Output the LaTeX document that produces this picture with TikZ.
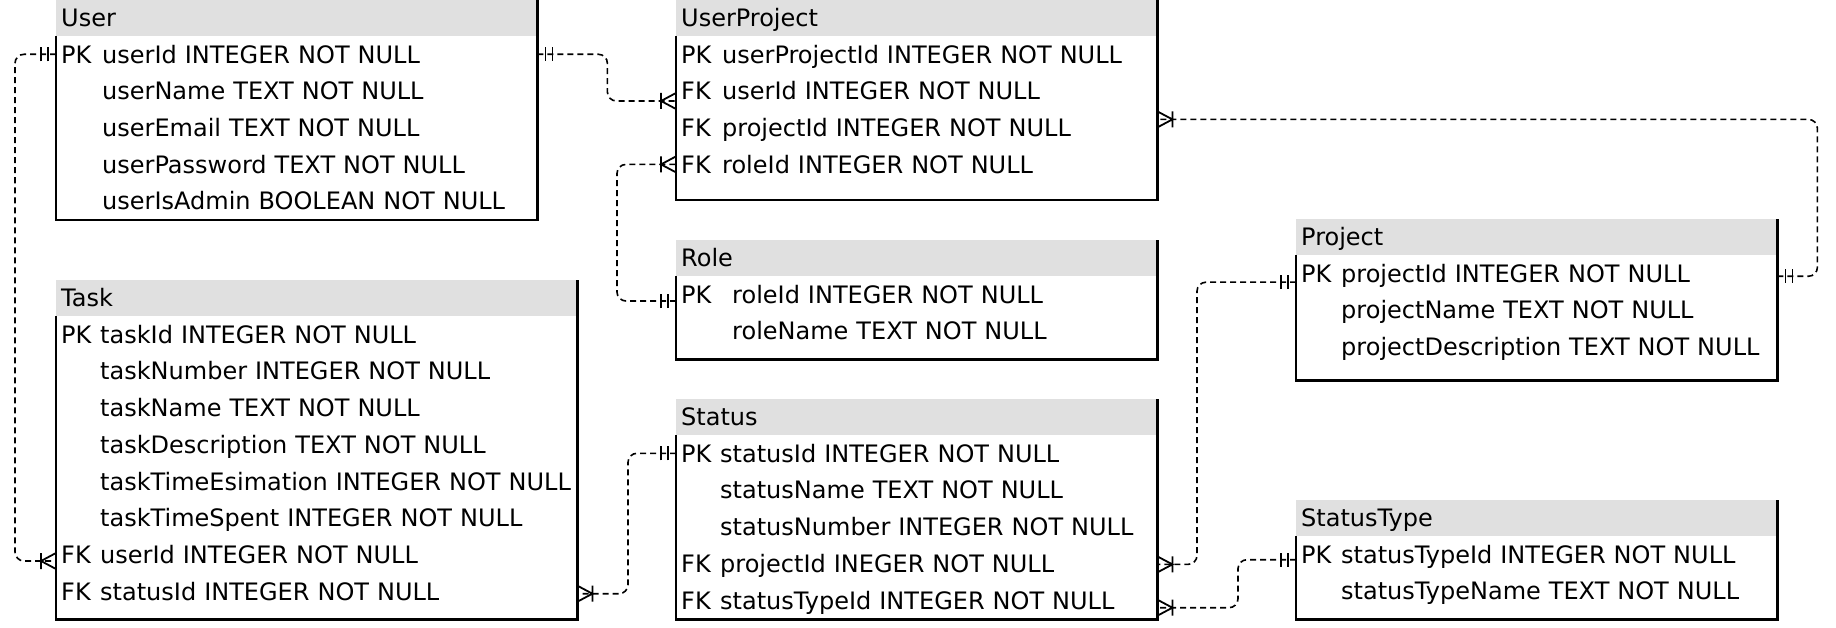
\documentclass[tikz,border=0pt]{standalone}
\usepackage{fontspec}
\setmainfont{DejaVu Sans}
\usetikzlibrary{calc,decorations.markings}
\definecolor{headgray}{HTML}{E0E0E0}

\tikzset{
  tablebox/.style={anchor=north west, inner sep=0pt},
  frame/.style={line width=2.2pt},
  field/.style={anchor=west, inner xsep=5pt, inner ysep=0pt, text height=17.8pt, text depth=0pt, align=left},
  one start/.style={postaction={decorate, decoration={markings, mark=at position 0 with {\draw[solid, sharp corners, line width=1.8pt] (8,-7) -- (8,7) (15,-7) -- (15,7);}}}},
  many end/.style={postaction={decorate, decoration={markings, mark=at position 1 with {\draw[solid, sharp corners, line width=1.8pt] (-15,-8) -- (-15,8) (0,-8) -- (-15,0) -- (0,8);}}}},
  link/.style={line width=1.6pt, dash pattern=on 6pt off 4pt, rounded corners=9pt, one start, many end}
}

% name, x, y, width, height, title, key width, rows
\newcommand\erdtable[8]{%
  \node[tablebox, minimum width=#4pt, minimum height=#5pt] (#1) at (#2,#3) {};
  \fill[headgray] (#1.north west) rectangle ([yshift=-36pt]#1.north east);
  \draw[frame] ([yshift=-36pt]#1.north west) -- (#1.south west) -- (#1.south east) -- (#1.north east);
  \node[field] (#1-h) at ([yshift=-18pt]#1.north west) {#6};
  \pgfmathsetmacro\rowtw{#4-10}
  \foreach \k/\f [count=\i] in {#8}
    \node[field, text width=\rowtw pt] (#1-\i) at ($(#1.north west)+(0,{54.3+36.7*(\i-1)})$) {\mbox{\makebox[#7pt][l]{\k}\f}};
}

\begin{document}
\begin{tikzpicture}[x=1pt, y=-1pt, font=\fontsize{24}{29}\selectfont]
  \useasboundingbox (0,0) rectangle (1836,628);

  \erdtable{user}{56}{0}{481}{220}{User}{41}{PK/userId INTEGER NOT NULL, {}/userName TEXT NOT NULL, {}/userEmail TEXT NOT NULL, {}/userPassword TEXT NOT NULL, {}/userIsAdmin BOOLEAN NOT NULL}
  \erdtable{up}{676}{0}{481}{200}{UserProject}{41}{PK/userProjectId INTEGER NOT NULL, FK/userId INTEGER NOT NULL, FK/projectId INTEGER NOT NULL, FK/roleId INTEGER NOT NULL}
  \erdtable{role}{676}{240}{481}{119}{Role}{51}{PK/roleId INTEGER NOT NULL, {}/roleName TEXT NOT NULL}
  \erdtable{task}{56}{280}{521}{339}{Task}{39}{PK/taskId INTEGER NOT NULL, {}/taskNumber INTEGER NOT NULL, {}/taskName TEXT NOT NULL, {}/taskDescription TEXT NOT NULL, {}/taskTimeEsimation INTEGER NOT NULL, {}/taskTimeSpent INTEGER NOT NULL, FK/userId INTEGER NOT NULL, FK/statusId INTEGER NOT NULL}
  \erdtable{status}{676}{399}{481}{220}{Status}{39}{PK/statusId INTEGER NOT NULL, {}/statusName TEXT NOT NULL, {}/statusNumber INTEGER NOT NULL, FK/projectId INEGER NOT NULL, FK/statusTypeId INTEGER NOT NULL}
  \erdtable{project}{1296}{219}{481}{161}{Project}{40}{PK/projectId INTEGER NOT NULL, {}/projectName TEXT NOT NULL, {}/projectDescription TEXT NOT NULL}
  \erdtable{stype}{1296}{500}{481}{119}{StatusType}{40}{PK/statusTypeId INTEGER NOT NULL, {}/statusTypeName TEXT NOT NULL}

  % relations
  \draw[link] (user-1.west) -- ++(-41,0) |- ([yshift=-6.5pt]task-7.west);
  \draw[link] (user-1.east) -- ++(70,0) |- ([yshift=-10pt]up-2.west);
  \draw[link] ([yshift=-6.7pt]role-1.west) -- ++(-59,0) |- (up-4.west);
  \draw[link] ([yshift=-3pt]project-1.east) -- ++(40,0) |- ([yshift=8.3pt]up-3.east);
  \draw[link] ([yshift=-8.9pt]project-1.west) -- ++(-99,0) |- ([yshift=-1pt]status-4.east);
  \draw[link] ([yshift=-5.4pt]stype-1.west) -- ++(-58,0) |- ([yshift=-7.6pt]status-5.east);
  \draw[link] (status-1.west) -- ++(-48,0) |- ([yshift=-2.5pt]task-8.east);
\end{tikzpicture}
\end{document}
